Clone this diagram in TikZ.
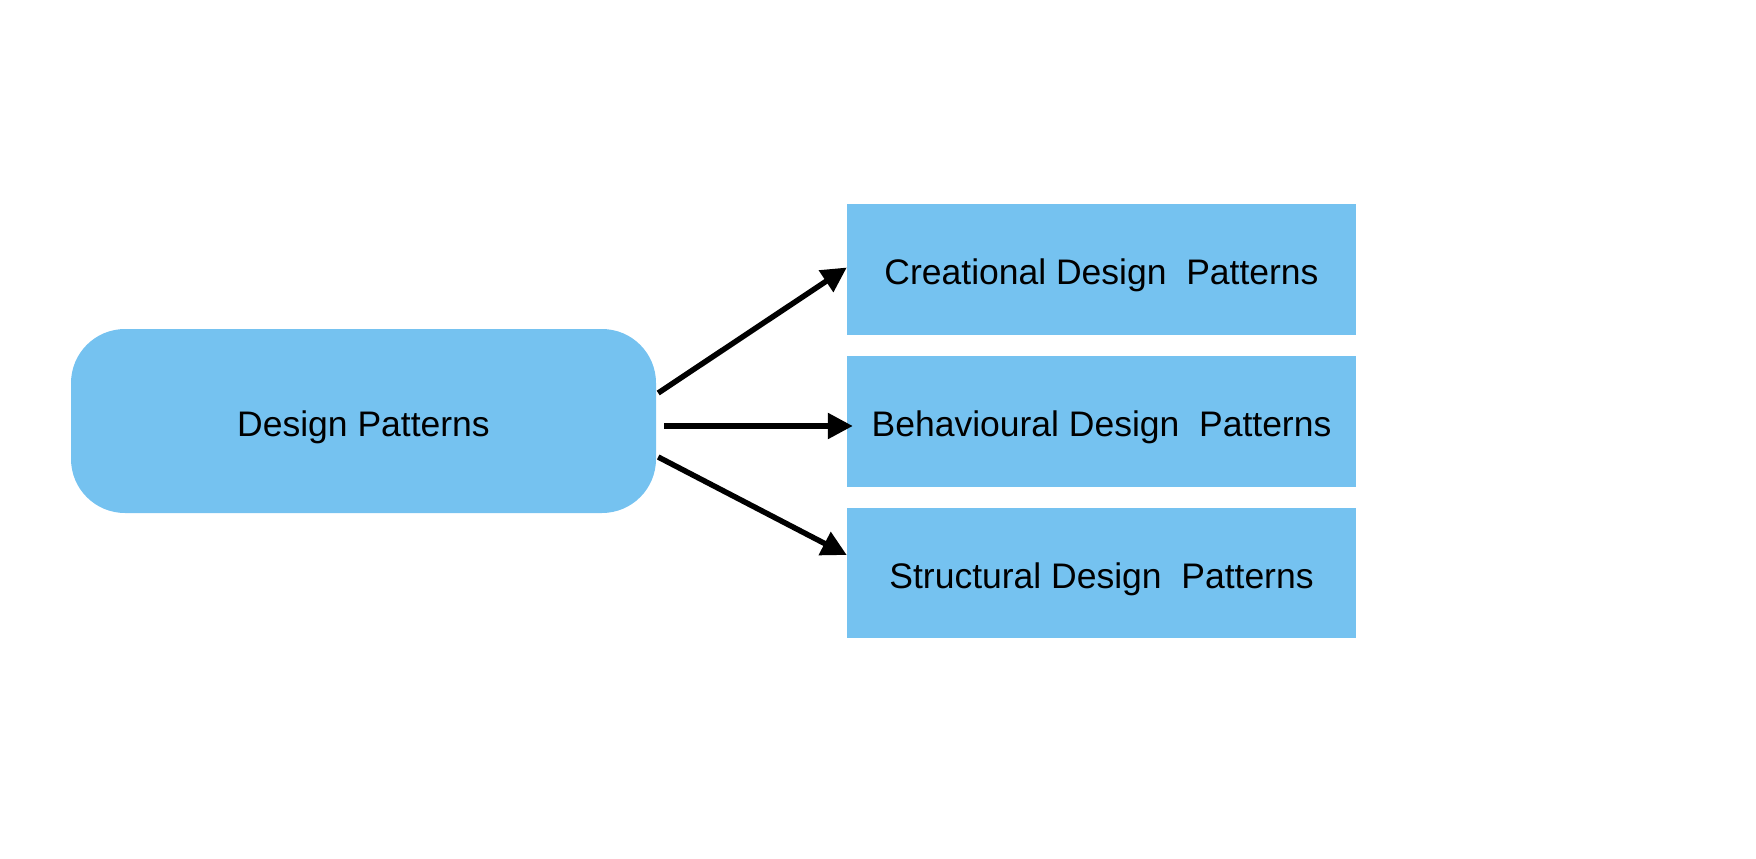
\documentclass[tikz,border=0pt]{standalone}
\usepackage{fontspec}
\setmainfont{Liberation Sans}
\usetikzlibrary{arrows.meta}
\definecolor{boxblue}{RGB}{117,194,240}
\tikzset{
  labeltext/.style={font=\fontsize{35.5}{40}\selectfont, text height=30pt, text depth=0pt},
  rootbox/.style={labeltext, fill=boxblue, draw=none, rounded corners=54pt, minimum width=585pt, minimum height=184pt, inner sep=0pt},
  catbox/.style={labeltext, fill=boxblue, draw=none, minimum width=509pt, minimum height=131pt, inner sep=0pt},
  arr/.style={line width=5.5pt, -{Triangle[length=25pt,width=25pt]}}
}
\begin{document}
\begin{tikzpicture}[x=1pt,y=-1pt]
\useasboundingbox (0,0) rectangle (1756,859);
\node[rootbox] (dp) at (363.5,421) {Design Patterns};
\node[catbox] (c1) at (1101.5,269.5) {Creational Design\ \ Patterns};
\node[catbox] (c2) at (1101.5,421.5) {Behavioural Design\ \ Patterns};
\node[catbox, minimum height=130pt] (c3) at (1101.5,573) {Structural Design\ \ Patterns};
\draw[arr] ([xshift=2pt,yshift=28pt]dp.east) -- ([yshift=2pt]c1.west);
\draw[arr] ([xshift=8pt,yshift=-5pt]dp.east) -- ([xshift=6pt,yshift=-4.5pt]c2.west);
\draw[arr] ([xshift=2pt,yshift=-36pt]dp.east) -- ([yshift=18pt]c3.west);
\end{tikzpicture}
\end{document}
